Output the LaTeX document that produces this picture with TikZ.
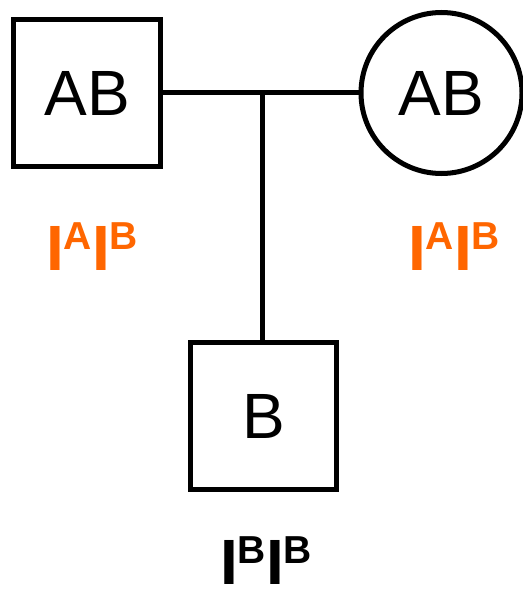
\documentclass[tikz,border=0pt]{standalone}
\usepackage{fontspec}
\setmainfont{Liberation Sans}
\usepackage{xcolor}
\usepackage{tikz}
\definecolor{geneorange}{HTML}{FF6600}
\newcommand{\allele}[1]{\raisebox{21pt}{\fontsize{39}{39}\selectfont #1}}

\begin{document}
\begin{tikzpicture}[x=1pt, y=-1pt,
    male/.style={draw, line width=5pt, minimum size=146.5pt, inner sep=0pt,
        font=\fontsize{64}{64}\selectfont},
    female/.style={draw, circle, line width=5pt, minimum size=161pt, inner sep=0pt,
        font=\fontsize{64}{64}\selectfont},
    geno/.style={anchor=base, inner sep=0pt, font=\fontsize{64}{64}\selectfont\bfseries},
    link/.style={line width=5pt}]
    \useasboundingbox (0,0) rectangle (522,591);
    \node[male] (father) at (87,93) {AB};
    \node[female] (mother) at (441.5,93) {AB};
    \node[male] (child) at (263.5,416) {B};
    \coordinate (mid) at (262,93);
    \draw[link] (father.east) -- (mother.west);
    \draw[link] (mid) -- (mid |- child.north);
    \node[geno, text=geneorange] (gfather) at (92,270) {I\allele{A}I\allele{B}};
    \node[geno, text=geneorange] (gmother) at (454,270) {I\allele{A}I\allele{B}};
    \node[geno] (gchild) at (266,584) {I\allele{B}I\allele{B}};
\end{tikzpicture}
\end{document}
